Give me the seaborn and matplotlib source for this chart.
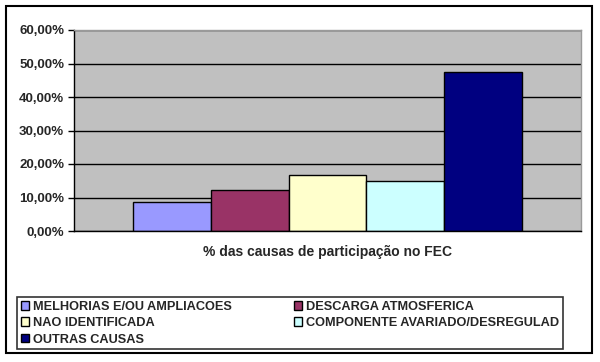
import matplotlib
matplotlib.use("Agg")
import matplotlib.pyplot as plt
from matplotlib.patches import Rectangle
import pandas as pd
import seaborn as sns

# causes and their share of FEC (%)
causas = ["MELHORIAS E/OU AMPLIACOES", "DESCARGA ATMOSFERICA", "NAO IDENTIFICADA",
          "COMPONENTE AVARIADO/DESREGULAD", "OUTRAS CAUSAS"]
percentuais = [8.6, 12.2, 16.6, 14.8, 47.6]
cores = ["#9999FF", "#993366", "#FFFFCC", "#CCFFFF", "#000080"]
y_ticks = [0, 10, 20, 30, 40, 50, 60]
y_tick_labels = ["0,00%", "10,00%", "20,00%", "30,00%", "40,00%", "50,00%", "60,00%"]
x_label = "% das causas de participação no FEC"

sns.set_style("white")
plt.rcParams["font.family"] = ["Liberation Sans", "DejaVu Sans"]
plt.rcParams["font.weight"] = "bold"

df = pd.DataFrame({"grupo": [""] * len(causas), "causa": causas, "valor": percentuais})

fig = plt.figure(figsize=(6.0, 3.62), dpi=100)
ax = fig.add_axes([74 / 600, 1 - 231 / 362, 507 / 600, 201 / 362])
ax.set_facecolor("#C0C0C0")

sns.barplot(data=df, x="grupo", y="valor", hue="causa", hue_order=causas,
            palette=cores, saturation=1, width=0.767, gap=0,
            edgecolor="black", linewidth=1, legend=False, ax=ax)

ax.set_ylim(0, 60)
ax.set_yticks(y_ticks)
ax.set_yticklabels(y_tick_labels, fontsize=9.5, fontweight="bold")
ax.set_xticks([])
ax.set_xlabel(x_label, fontsize=10, fontweight="bold", labelpad=10)
ax.set_ylabel("")
ax.yaxis.grid(True, color="black", linewidth=1)
ax.set_axisbelow(True)
ax.tick_params(axis="y", left=True, length=4, width=1, color="black", pad=3)
for side in ["left", "bottom"]:
    ax.spines[side].set_color("black")
    ax.spines[side].set_linewidth(1)
for side in ["top", "right"]:
    ax.spines[side].set_color("#9A9A9A")
    ax.spines[side].set_linewidth(1)

# legend filled row by row like the original (two columns)
handles = [Rectangle((0, 0), 1, 1, facecolor=c, edgecolor="black", linewidth=1) for c in cores]
order = [0, 2, 4, 1, 3]
leg = fig.legend([handles[i] for i in order], [causas[i] for i in order],
                 ncol=2, loc="upper left", mode="expand",
                 bbox_to_anchor=(17 / 600, 1 - 297 / 362, 546 / 600, 0),
                 frameon=True, fancybox=False, edgecolor="black",
                 handlelength=0.65, handleheight=0.65, handletextpad=0.3,
                 labelspacing=0.34, borderpad=0.3, borderaxespad=0,
                 prop={"weight": "bold", "size": 9.2})
leg.get_frame().set_linewidth(1.2)

# outer chart border
fig.patches.append(Rectangle((6 / 600, 9 / 362), 586 / 600, 347 / 362,
                             transform=fig.transFigure, fill=False,
                             edgecolor="black", linewidth=1.5))

fig.savefig("out.png", dpi=100)
